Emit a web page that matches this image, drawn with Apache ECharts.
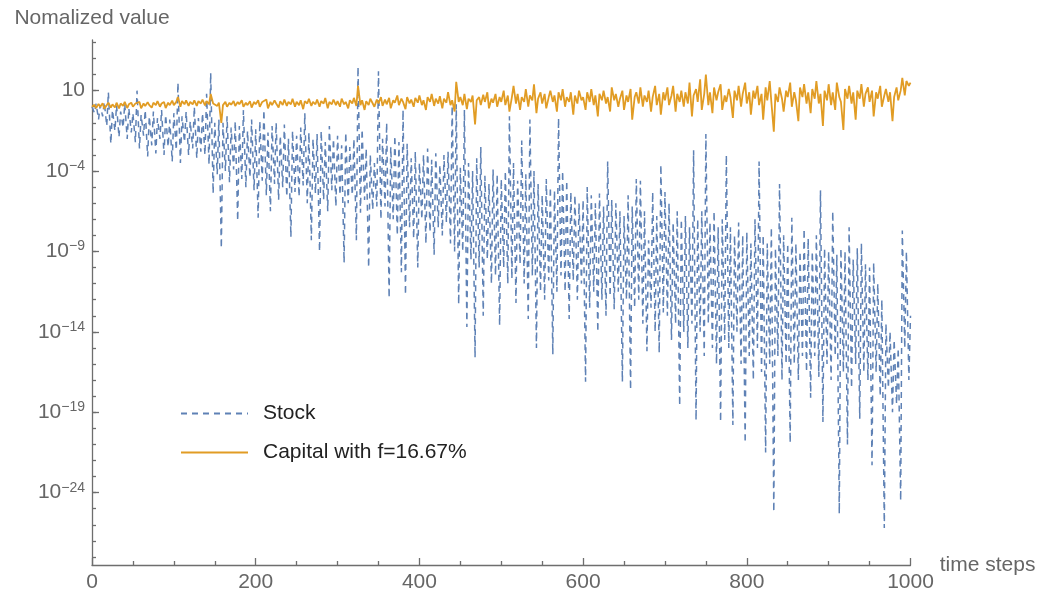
<!DOCTYPE html>
<html>
<head>
<meta charset="utf-8">
<script src="https://cdn.jsdelivr.net/npm/echarts@6/dist/echarts.min.js"></script>
<style>
  html, body { margin: 0; padding: 0; background: #fff; }
  #chart { width: 1048px; height: 594px; }
</style>
</head>
<body>
<div id="chart"></div>
<script>
// sampled time steps
const steps = [
  0,3,5,8,10,13,15,18,20,23,25,28,30,33,35,38,40,43,45,48,
  50,53,55,58,60,63,65,68,70,73,75,78,80,83,85,88,90,93,95,98,
  100,103,105,108,110,113,115,118,120,123,125,128,130,133,135,138,140,143,145,148,
  150,153,155,158,160,163,165,168,170,173,175,178,180,183,185,188,190,193,195,198,
  200,203,205,208,210,213,215,218,220,223,225,228,230,233,235,238,240,243,245,248,
  250,253,255,258,260,263,265,268,270,273,275,278,280,283,285,288,290,293,295,298,
  300,303,305,308,310,313,315,318,320,323,325,328,330,333,335,338,340,343,345,348,
  350,353,355,358,360,363,365,368,370,373,375,378,380,383,385,388,390,393,395,398,
  400,403,405,408,410,413,415,418,420,423,425,428,430,433,435,438,440,443,445,448,
  450,453,455,458,460,463,465,468,470,473,475,478,480,483,485,488,490,493,495,498,
  500,503,505,508,510,513,515,518,520,523,525,528,530,533,535,538,540,543,545,548,
  550,553,555,558,560,563,565,568,570,573,575,578,580,583,585,588,590,593,595,598,
  600,603,605,608,610,613,615,618,620,623,625,628,630,633,635,638,640,643,645,648,
  650,653,655,658,660,663,665,668,670,673,675,678,680,683,685,688,690,693,695,698,
  700,703,705,708,710,713,715,718,720,723,725,728,730,733,735,738,740,743,745,748,
  750,753,755,758,760,763,765,768,770,773,775,778,780,783,785,788,790,793,795,798,
  800,803,805,808,810,813,815,818,820,823,825,828,830,833,835,838,840,843,845,848,
  850,853,855,858,860,863,865,868,870,873,875,878,880,883,885,888,890,893,895,898,
  900,903,905,908,910,913,915,918,920,923,925,928,930,933,935,938,940,943,945,948,
  950,953,955,958,960,963,965,968,970,973,975,978,980,983,985,988,990,993,995,998,
  1000
];

// log10 of the normalized stock value
const stockLog10 = [
  0,-0.4,0.2,-0.8,0.1,-0.6,0.3,-1.2,0.9,-2.3,-0.2,-1.5,0.1,-1.9,-0.3,-1.3,0.2,-2.0,-0.1,-1.6,
  -0.4,-2.2,1.0,-2.6,-0.5,-1.8,-0.2,-3.1,-0.6,-2.4,-0.3,-2.9,-0.7,-2.0,-0.2,-3.0,-0.5,-2.5,-0.8,-3.4,
  -0.4,-2.7,1.5,-3.5,-0.6,-2.2,-0.3,-3.0,-0.9,-2.6,0.0,-3.2,-0.7,-2.8,-0.4,-3.0,0.8,-3.6,2.1,-5.4,
  -1.0,-4.2,-0.8,-8.8,-1.0,-4.0,-0.6,-4.7,-1.3,-3.9,-0.9,-7.1,-1.2,-4.5,-0.2,-5.0,-1.5,-4.4,-0.8,-5.2,
  -1.4,-6.9,-0.9,-4.6,-0.2,-5.5,-1.6,-6.5,-1.2,-4.8,-1.0,-5.8,-1.8,-5.0,-1.1,-5.6,-2.0,-8.1,-1.5,-5.3,
  -1.8,-5.6,-1.3,-4.9,-0.4,-6.0,-1.6,-8.3,-2.0,-5.4,-1.7,-9.0,-1.5,-5.8,-2.2,-6.5,-1.2,-5.2,-2.0,-6.2,
  -1.8,-5.5,-2.4,-9.7,-1.6,-6.0,-2.5,-5.5,-2.0,-8.3,2.5,-6.6,-1.4,-5.8,-2.6,-10.0,-3.0,-6.4,-3.5,-6.2,
  2.2,-7.0,-2.0,-6.2,-1.0,-11.9,-2.5,-7.0,-1.8,-8.0,-2.2,-10.3,-0.2,-11.7,-2.3,-7.5,-3.2,-8.2,-2.8,-10.0,
  -3.5,-7.0,-3.0,-8.5,-2.6,-7.8,-3.3,-9.2,-2.9,-7.5,-3.6,-8.0,-3.0,-7.2,-2.8,-8.5,0.05,-9.0,0.15,-12.3,
  -3.8,-9.0,-0.2,-13.7,-3.5,-9.5,-4.0,-15.6,-3.2,-10.0,-2.5,-13.0,-4.3,-9.5,-4.8,-11.0,-3.9,-10.5,-4.2,-13.6,
  -4.5,-10.0,-4.0,-11.0,-0.6,-10.7,-3.5,-12.2,-4.6,-9.8,-2.1,-11.0,-4.2,-13.2,-0.8,-10.5,-4.0,-15.0,-4.8,-11.5,
  -5.5,-12.0,-4.5,-10.8,-5.0,-15.4,-5.2,-11.5,-0.7,-10.5,-4.0,-11.5,-4.6,-13.2,-5.3,-10.8,-5.5,-12.0,-6.0,-11.0,
  -5.8,-17.1,-5.0,-12.5,-5.5,-11.5,-6.0,-14.0,-5.4,-12.0,-6.2,-13.0,-3.4,-11.8,-5.8,-12.6,-6.0,-11.5,-6.5,-17.1,
  -6.8,-12.0,-5.5,-17.6,-6.2,-12.5,-4.5,-12.0,-4.6,-13.5,-6.5,-15.2,-8.3,-12.5,-5.3,-14.0,-6.8,-15.3,-3.6,-12.8,
  -5.3,-13.0,-6.0,-14.5,-7.2,-13.5,-6.5,-18.6,-7.0,-14.0,-6.8,-15.0,-7.5,-13.5,-2.7,-19.5,-7.0,-14.0,-6.5,-15.5,
  -1.7,-13.5,-7.2,-15.0,-6.5,-16.0,-7.5,-19.6,-7.0,-14.5,-3.0,-15.0,-7.5,-19.8,-8.0,-14.0,-7.2,-16.0,-8.0,-20.9,
  -7.8,-15.5,-8.5,-17.0,-7.0,-15.0,-3.4,-16.5,-8.0,-21.5,-8.5,-16.0,-7.5,-25.2,-8.8,-15.5,-4.8,-17.0,-8.0,-16.0,
  -8.5,-20.9,-6.9,-16.0,-8.5,-17.0,-9.0,-15.5,-7.6,-16.5,-8.2,-18.1,-9.0,-15.5,-8.0,-16.8,-5.2,-19.6,-8.8,-16.0,
  -9.0,-17.0,-6.5,-15.5,-9.2,-25.3,-8.8,-16.5,-9.0,-21.0,-7.5,-17.5,-9.5,-16.0,-8.8,-19.4,-8.5,-16.5,-9.8,-17.0,
  -10.0,-22.3,-9.7,-16.5,-11.0,-18.0,-12.0,-26.2,-13.5,-17.5,-14.0,-19.0,-14.5,-18.5,-15.0,-24.5,-7.7,-15.0,-9.0,-17.0,
  -13.0
];

// log10 of the normalized capital with f=16.67%
const capitalLog10 = [
  0,0.12,-0.08,0.18,0.0,0.22,-0.12,0.1,0.25,-0.05,0.15,-0.05,0.25,-0.1,0.2,0.05,0.3,-0.08,0.15,0.25,
  0.0,0.2,0.1,0.3,-0.1,0.2,0.05,0.28,0.1,-0.06,0.25,0.1,0.35,0.0,0.2,0.3,-0.08,0.25,0.1,0.38,
  0.1,0.3,0.6,0.0,0.35,0.15,0.4,0.05,0.3,0.15,0.4,0.05,0.35,0.2,0.45,0.08,0.35,0.15,0.8,0.2,
  0.3,0.05,0.25,-1.0,0.1,0.3,0.0,0.25,0.12,0.35,0.05,0.3,0.15,0.4,0.0,0.25,0.1,0.35,-0.05,0.3,
  0.15,0.4,0.0,0.3,0.2,0.45,-0.1,0.3,0.1,0.4,0.2,-0.05,0.35,0.1,0.45,0.05,0.3,0.15,0.5,0.0,
  0.3,0.1,0.4,-0.15,0.35,0.2,0.5,0.05,0.3,0.15,0.45,0.0,0.35,0.2,0.55,-0.1,0.3,0.15,0.45,0.1,
  0.35,0.0,0.5,0.15,0.3,-0.1,0.4,0.2,0.55,0.05,1.3,0.1,0.4,-0.2,0.35,0.1,0.5,0.2,0.0,0.45,
  0.2,0.6,0.05,0.45,0.15,0.55,-0.1,0.4,0.25,0.7,0.1,0.5,0.3,-0.15,0.6,0.2,0.45,0.0,0.55,0.25,
  0.7,0.1,0.4,-0.2,0.6,0.3,0.8,0.05,0.5,0.2,0.65,-0.1,0.5,0.25,0.9,0.1,0.4,-0.3,1.55,0.3,
  0.6,0.1,0.8,-0.15,0.5,0.3,0.7,-1.1,0.4,0.6,0.1,0.75,0.3,0.9,-0.1,0.5,0.25,0.8,0.0,0.6,
  0.3,1.0,0.1,0.7,-0.3,0.6,1.3,0.2,0.8,-0.2,0.6,0.3,1.1,0.0,0.7,0.4,1.4,-0.4,0.5,0.9,
  0.2,0.8,-0.1,0.6,1.0,0.3,0.7,-0.3,0.9,0.4,1.1,0.0,0.6,0.3,0.9,-0.5,0.7,0.2,1.0,0.4,
  0.6,-0.2,0.9,0.3,1.1,0.1,0.7,-0.6,0.8,0.4,1.0,0.2,0.6,-0.3,1.2,0.4,0.8,0.0,0.5,1.0,
  -0.2,0.7,0.3,1.1,-0.8,0.6,0.9,0.2,1.2,0.0,0.7,0.3,1.0,-0.3,0.6,1.3,0.1,0.8,-0.5,0.9,
  0.4,1.2,0.1,0.7,1.3,-0.3,0.8,0.3,1.0,0.0,0.9,0.2,1.5,-0.6,0.7,1.1,0.3,1.7,-0.2,0.8,
  2.0,0.1,0.9,-0.4,1.2,0.4,0.9,1.4,-0.2,0.7,0.3,1.1,0.6,-0.7,1.0,0.4,1.3,0.0,0.8,1.5,
  0.2,0.9,-0.5,1.0,0.5,1.3,0.1,0.8,-0.8,1.2,0.4,1.6,0.3,-1.55,0.8,0.3,1.2,0.5,-0.3,1.0,
  0.6,1.5,0.0,0.9,0.4,-0.9,1.2,0.6,1.4,0.2,0.9,-0.4,1.1,0.5,1.6,0.2,0.8,-1.2,1.0,0.4,
  1.4,0.1,0.9,-0.2,1.5,0.6,0.3,-1.45,1.1,0.5,1.3,0.2,0.9,-0.8,1.0,0.5,1.4,0.0,0.8,1.2,
  0.3,1.0,-0.6,0.9,0.5,1.3,0.0,0.7,1.1,0.3,0.9,-0.9,0.6,1.2,0.4,1.0,1.8,0.7,1.6,1.3,
  1.5
];

// y tick exponents
const majorTicks = [1, -4, -9, -14, -19, -24];
const minorTicks = [4,3,2,1,0,-1,-2,-3,-4,-5,-6,-7,-8,-9,-10,-11,-12,-13,-14,-15,-16,-17,-18,-19,-20,-21,-22,-23,-24,-25,-26,-27,-28];

const yMinExp = -28.5;
const yMaxExp = 4.15;

const font = "'Liberation Sans', Arial, sans-serif";
const axisColor = '#6e6e6e';
const labelColor = '#666666';

let chart = echarts.init(document.getElementById('chart'), null, {renderer: 'canvas'});

let stockData = steps.map((t, i) => [t, Math.pow(10, stockLog10[i])]);
let capitalData = steps.map((t, i) => [t, Math.pow(10, capitalLog10[i])]);

let option = {
  animation: false,
  backgroundColor: '#fff',
  textStyle: { fontFamily: font },
  grid: {
    left: 92,
    right: 137.5,
    top: 40,
    bottom: 29,
    containLabel: false,
    outerBoundsMode: 'none'
  },
  legend: {
    orient: 'vertical',
    left: 175,
    top: 398,
    itemWidth: 67,
    itemHeight: 20,
    itemGap: 18,
    itemStyle: { opacity: 0 },
    textStyle: { fontSize: 21, color: '#222', fontFamily: font, padding: [0, 0, 0, 10] },
    data: ['Stock', 'Capital with f=16.67%']
  },
  xAxis: {
    type: 'value',
    min: 0,
    max: 1000,
    interval: 200,
    name: 'time steps',
    nameLocation: 'end',
    nameGap: 29,
    nameTextStyle: { fontSize: 21, color: labelColor, fontFamily: font },
    axisLine: { show: true, lineStyle: { color: axisColor, width: 1.3 } },
    axisTick: { show: true, inside: true, length: 7, lineStyle: { color: axisColor, width: 1.3 } },
    minorTick: { show: true, splitNumber: 4, length: 4, lineStyle: { color: axisColor, width: 1.3 } },
    axisLabel: {
      fontSize: 21, color: labelColor, margin: 7, fontFamily: font,
      formatter: function (v) { return String(v); }
    },
    splitLine: { show: false }
  },
  yAxis: [
    {
      // data axis
      type: 'log',
      logBase: 10,
      min: Math.pow(10, yMinExp),
      max: Math.pow(10, yMaxExp),
      position: 'left',
      name: 'Nomalized value',
      nameLocation: 'end',
      nameGap: 11,
      nameTextStyle: { fontSize: 21, color: labelColor, fontFamily: font },
      axisLine: { show: true, lineStyle: { color: axisColor, width: 1.3 } },
      axisTick: { show: false },
      axisLabel: { show: false },
      splitLine: { show: false }
    },
    {
      // labels and minor ticks, exponent scale
      type: 'value',
      min: yMinExp,
      max: yMaxExp,
      position: 'left',
      axisLine: { show: false },
      axisTick: { show: true, inside: true, length: 4, customValues: minorTicks, lineStyle: { color: axisColor, width: 1.3 } },
      axisLabel: {
        customValues: majorTicks,
        margin: 7,
        color: labelColor,
        formatter: function (v) {
          v = Math.round(v);
          if (v === 1) return '{b|10}';
          return '{b|10}{s|' + String(v).replace('-', '\u2212') + '}';
        },
        rich: {
          b: { fontSize: 21, color: labelColor, fontFamily: font, lineHeight: 24 },
          s: { fontSize: 14, color: labelColor, fontFamily: font, lineHeight: 24, verticalAlign: 'top' }
        }
      },
      splitLine: { show: false }
    },
    {
      // major ticks
      type: 'value',
      min: yMinExp,
      max: yMaxExp,
      position: 'left',
      axisLine: { show: false },
      axisTick: { show: true, inside: true, length: 7, customValues: majorTicks, lineStyle: { color: axisColor, width: 1.3 } },
      axisLabel: { show: false },
      splitLine: { show: false }
    }
  ],
  series: [
    {
      name: 'Stock',
      type: 'line',
      yAxisIndex: 0,
      symbol: 'none',
      data: stockData,
      lineStyle: { color: '#5e81b5', width: 1.5, type: [6, 5] },
      itemStyle: { color: '#5e81b5' }
    },
    {
      name: 'Capital with f=16.67%',
      type: 'line',
      yAxisIndex: 0,
      symbol: 'none',
      data: capitalData,
      lineStyle: { color: '#e19c24', width: 1.8 },
      itemStyle: { color: '#e19c24' }
    }
  ]
};

chart.setOption(option);
</script>
</body>
</html>
